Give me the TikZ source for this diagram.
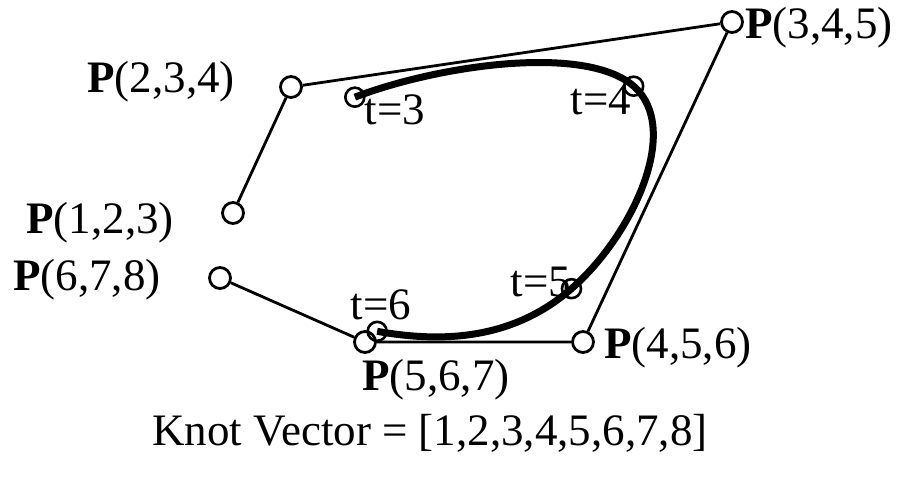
\documentclass[tikz,border=0pt]{standalone}
\usepackage{fontspec}
\setmainfont{Liberation Serif}
\usetikzlibrary{calc}
\begin{document}
\begin{tikzpicture}[x=1pt,y=-1pt,
  ctrl/.style={circle,draw,fill=white,line width=2.8pt,minimum size=21pt,inner sep=0pt},
  knotpt/.style={circle,draw,line width=2.6pt,minimum size=19pt,inner sep=0pt},
  poly/.style={line width=2.8pt},
  curvestyle/.style={line width=7pt},
  lbl/.style={inner sep=0pt,font=\fontsize{45}{54}\selectfont}]
\useasboundingbox (0,0) rectangle (898,477);
% control points
\coordinate (a) at (233,213);
\coordinate (b) at (291,87);
\coordinate (c) at (732,22);
\coordinate (d) at (583,342);
\coordinate (e) at (365,342);
\coordinate (f) at (220,278);
% knot points of the uniform cubic B-spline
\coordinate (k3) at ($(b)!1/3!($(a)!.5!(c)$)$);
\coordinate (k4) at ($(c)!1/3!($(b)!.5!(d)$)$);
\coordinate (k5) at ($(d)!1/3!($(c)!.5!(e)$)$);
\coordinate (k6) at ($(e)!1/3!($(d)!.5!(f)$)$);
% curve
\draw[curvestyle] (k3) .. controls ($(b)!1/3!(c)$) and ($(b)!2/3!(c)$) .. (k4)
  .. controls ($(c)!1/3!(d)$) and ($(c)!2/3!(d)$) .. (k5)
  .. controls ($(d)!1/3!(e)$) and ($(d)!2/3!(e)$) .. (k6);
% control circles
\node[ctrl] (pa) at (a) {};
\node[ctrl] (pb) at (b) {};
\node[ctrl] (pc) at (c) {};
\node[ctrl] (pd) at (d) {};
\node[ctrl] (pe) at (e) {};
\node[ctrl] (pf) at (f) {};
\draw[poly] (pa) -- (pb) -- (pc) -- (pd) -- (pe) -- (pf);
% knot circles
\node[knotpt] (t3) at (k3) {};
\node[knotpt] (t4) at (k4) {};
\node[knotpt] (t5) at (k5) {};
\node[knotpt] (t6) at (k6) {};
% labels
\node[lbl,anchor=east] (l234) at (235,82) {\textbf{P}(2,3,4)};
\node[lbl,anchor=west] (l345) at (745,28) {\textbf{P}(3,4,5)};
\node[lbl,anchor=east] (l123) at (174,223) {\textbf{P}(1,2,3)};
\node[lbl,anchor=west] (l678) at (13,280) {\textbf{P}(6,7,8)};
\node[lbl,anchor=west] (l567) at (362,380) {\textbf{P}(5,6,7)};
\node[lbl,anchor=west] (l456) at (604,348) {\textbf{P}(4,5,6)};
\node[lbl] (lt3) at (395,110) {t=3};
\node[lbl] (lt4) at (601,100) {t=4};
\node[lbl] (lt5) at (541,282) {t=5};
\node[lbl] (lt6) at (381,305) {t=6};
\node[lbl] (kv) at (430,433) {Knot Vector = [1,2,3,4,5,6,7,8]};
\end{tikzpicture}
\end{document}
